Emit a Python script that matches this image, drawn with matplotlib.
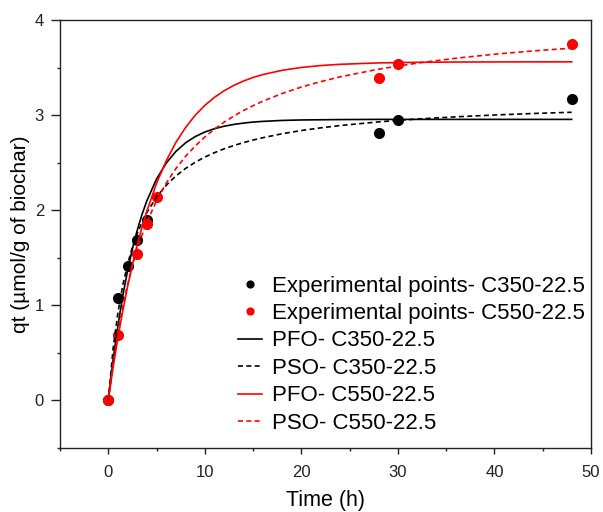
import matplotlib
matplotlib.use("Agg")
import matplotlib.pyplot as plt
from matplotlib.ticker import MultipleLocator

plt.rcParams['font.family'] = ['Liberation Sans', 'DejaVu Sans']

# Experimental points
t_c350 = [0, 1, 2, 3, 4, 28, 30, 48]
q_c350 = [0, 1.08, 1.41, 1.69, 1.90, 2.81, 2.95, 3.17]
t_c550 = [0, 1, 3, 4, 5, 28, 30, 48]
q_c550 = [0, 0.69, 1.54, 1.85, 2.14, 3.39, 3.54, 3.745]

# Model curves
t_fit = [0, 0.5, 1, 1.5, 2, 2.5, 3, 3.5, 4, 5, 6, 7, 8, 9, 10, 11, 12, 13, 14, 15, 16, 18, 20, 22,
         24, 28, 32, 36, 40, 44, 48]
pfo_c350 = [0, 0.425, 0.788, 1.099, 1.365, 1.594, 1.789, 1.957, 2.100, 2.328, 2.495, 2.618, 2.708,
            2.774, 2.822, 2.857, 2.883, 2.902, 2.916, 2.927, 2.934, 2.944, 2.949, 2.951,
            2.953, 2.955, 2.955, 2.955, 2.955, 2.955, 2.955]
pso_c350 = [0, 0.541, 0.924, 1.211, 1.433, 1.610, 1.754, 1.875, 1.976, 2.139, 2.262, 2.360, 2.439,
            2.504, 2.559, 2.605, 2.646, 2.680, 2.711, 2.738, 2.762, 2.804, 2.838, 2.866,
            2.890, 2.929, 2.959, 2.982, 3.001, 3.017, 3.030]
pfo_c550 = [0, 0.347, 0.660, 0.942, 1.197, 1.428, 1.635, 1.823, 1.992, 2.283, 2.519, 2.712, 2.869,
            2.998, 3.102, 3.187, 3.256, 3.312, 3.358, 3.396, 3.426, 3.471, 3.501, 3.521,
            3.534, 3.549, 3.555, 3.558, 3.559, 3.56, 3.56]
pso_c550 = [0, 0.393, 0.716, 0.987, 1.218, 1.416, 1.589, 1.740, 1.874, 2.101, 2.285, 2.437, 2.566,
            2.675, 2.770, 2.853, 2.926, 2.990, 3.048, 3.099, 3.146, 3.227, 3.295, 3.352,
            3.402, 3.483, 3.547, 3.598, 3.640, 3.675, 3.704]

labels = ["Experimental points- C350-22.5", "Experimental points- C550-22.5",
          "PFO- C350-22.5", "PSO- C350-22.5", "PFO- C550-22.5", "PSO- C550-22.5"]

fig = plt.figure(figsize=(6.03, 5.12), dpi=100)
ax = fig.add_axes([60/603, 1-448/512, 531/603, 428/512])

dash = (0, (3, 2))
lw = 1.2
h1, = ax.plot(t_c350, q_c350, 'o', color='black', markersize=7, linestyle='none', zorder=3)
h2, = ax.plot(t_c550, q_c550, 'o', color='red', markersize=7, linestyle='none', zorder=4)
h3, = ax.plot(t_fit, pfo_c350, color='black', lw=lw, zorder=5)
h4, = ax.plot(t_fit, pso_c350, color='black', lw=lw, linestyle=dash, zorder=5)
h5, = ax.plot(t_fit, pfo_c550, color='red', lw=lw, zorder=5)
h6, = ax.plot(t_fit, pso_c550, color='red', lw=lw, linestyle=dash, zorder=5)

ax.set_xlim(-5, 50)
ax.set_ylim(-0.5, 4)
ax.xaxis.set_major_locator(MultipleLocator(10))
ax.xaxis.set_minor_locator(MultipleLocator(5))
ax.yaxis.set_major_locator(MultipleLocator(1))
ax.yaxis.set_minor_locator(MultipleLocator(0.5))
ax.tick_params(which='major', direction='out', width=1, labelsize=12, colors='#222222')
ax.tick_params(axis='y', which='major', length=6.5, pad=5)
ax.tick_params(axis='x', which='major', length=4, pad=8.5)
ax.tick_params(which='minor', direction='out', length=2.5, width=1, colors='#222222')
for s in ax.spines.values():
    s.set_linewidth(1)
    s.set_color('#222222')

ax.set_xlabel('Time (h)', fontsize=15.5, labelpad=7)
ax.set_ylabel('qt (µmol/g of biochar)', fontsize=15, labelpad=3)

leg = ax.legend([h1, h2, h3, h4, h5, h6], labels, loc='upper left',
                bbox_to_anchor=(0.335, 0.403), frameon=False, fontsize=16,
                handlelength=1.1, handletextpad=0.45, labelspacing=0.29,
                borderpad=0, borderaxespad=0, markerscale=0.7)

fig.savefig('out.png', dpi=100)
